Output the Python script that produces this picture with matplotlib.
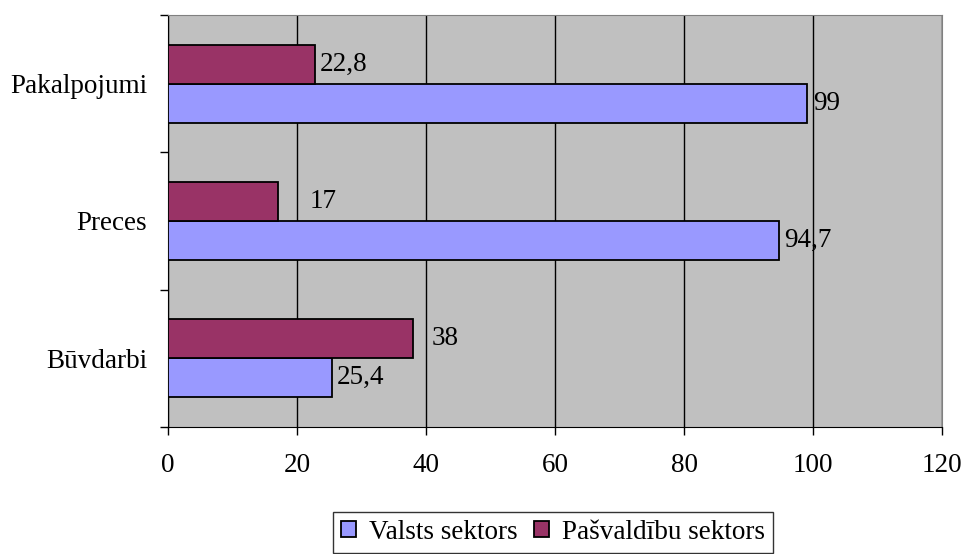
import matplotlib.pyplot as plt
import numpy as np

categories = ['Būvdarbi', 'Preces', 'Pakalpojumi']
valsts = [25.4, 94.7, 99]
pasvaldibu = [38, 17, 22.8]
valsts_labels = ['25,4', '94,7', '99']
pasvaldibu_labels = ['38', '17', '22,8']
xticks = [0, 20, 40, 60, 80, 100, 120]

plt.rcParams['font.family'] = ['Liberation Serif', 'DejaVu Serif']
plt.rcParams['font.size'] = 19.5

fig = plt.figure(figsize=(9.66, 5.54), dpi=100)
ax = fig.add_axes([168/966, 1 - 427/554, (942-168)/966, (427-15)/554])
ax.set_facecolor('#c0c0c0')

y = np.arange(len(categories))
h = 0.285
b_val = ax.barh(y - h/2, valsts, height=h, color='#9999ff', edgecolor='black', lw=1.3,
                label='Valsts sektors', zorder=3)
b_pas = ax.barh(y + h/2, pasvaldibu, height=h, color='#993366', edgecolor='black', lw=1.3,
                label='Pašvaldību sektors', zorder=3)

# Excel-style label offsets (pixels)
off_val = [5, 5, 7]
off_pas = [19, 32, 5]
for i in range(len(categories)):
    ax.annotate(valsts_labels[i], (valsts[i], y[i] - h/2), xytext=(off_val[i], 0),
                textcoords='offset pixels', va='center', ha='left', zorder=4)
    ax.annotate(pasvaldibu_labels[i], (pasvaldibu[i], y[i] + h/2), xytext=(off_pas[i], 0),
                textcoords='offset pixels', va='center', ha='left', zorder=4)

ax.set_xlim(0, 120)
ax.set_ylim(-0.5, 2.5)
ax.set_xticks(xticks)
ax.set_xticklabels([str(t) for t in xticks])
ax.tick_params(axis='x', length=6, width=1, pad=13, direction='out')
ax.xaxis.grid(True, color='black', lw=1, zorder=1)

ax.set_yticks([-0.5, 0.5, 1.5, 2.5])
ax.set_yticklabels([])
ax.set_yticks(y, minor=True)
ax.set_yticklabels(categories, minor=True)
ax.tick_params(axis='y', which='major', length=6, width=1, direction='out')
ax.tick_params(axis='y', which='minor', length=0, pad=15)

for s in ['top', 'right']:
    ax.spines[s].set_color('#808080')
for s in ['left', 'bottom']:
    ax.spines[s].set_color('black')

leg = fig.legend(handles=[b_val, b_pas], loc='lower center', bbox_to_anchor=(553/966, 0.002),
                 ncol=2, frameon=True, fancybox=False, edgecolor='black',
                 handlelength=0.55, handleheight=0.55, handletextpad=0.48, columnspacing=0.6,
                 borderpad=0.3, borderaxespad=0)
leg.get_frame().set_linewidth(1)

fig.savefig('out.png', dpi=100)
